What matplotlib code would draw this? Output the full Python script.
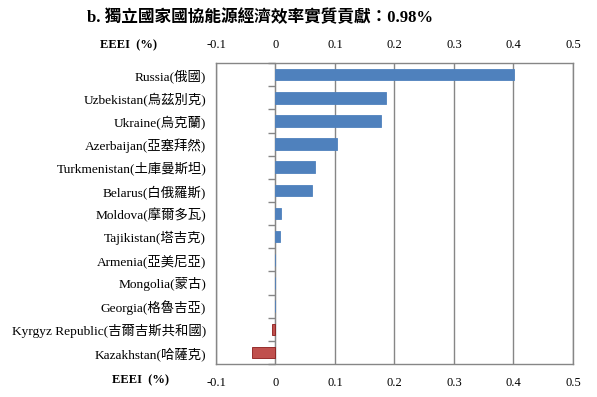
import matplotlib
matplotlib.use("Agg")
import matplotlib.pyplot as plt
import numpy as np

countries = ["Russia(俄國)", "Uzbekistan(烏茲別克)", "Ukraine(烏克蘭)", "Azerbaijan(亞塞拜然)",
             "Turkmenistan(土庫曼斯坦)", "Belarus(白俄羅斯)", "Moldova(摩爾多瓦)", "Tajikistan(塔吉克)",
             "Armenia(亞美尼亞)", "Mongolia(蒙古)", "Georgia(格魯吉亞)", "Kyrgyz Republic(吉爾吉斯共和國)",
             "Kazakhstan(哈薩克)"]
values = [0.401, 0.185, 0.178, 0.103, 0.067, 0.061, 0.010, 0.007, 0.0, 0.0, 0.0, -0.006, -0.040]
xticks = [-0.1, 0, 0.1, 0.2, 0.3, 0.4, 0.5]
xticklabels = ["-0.1", "0", "0.1", "0.2", "0.3", "0.4", "0.5"]
title = "b. 獨立國家國協能源經濟效率實質貢獻：0.98%"
axis_label = "EEEI  (%)"

fam = ["Liberation Serif", "Noto Sans CJK TC", "DejaVu Sans"]
plt.rcParams['font.family'] = fam

fig = plt.figure(figsize=(5.97, 3.97), dpi=100)
ax = fig.add_axes([0.3618, 0.0831, 0.5980, 0.7580])

n = len(countries)
ypos = np.arange(n)[::-1]
colors = ["#4F81BD" if v >= 0 else "#C0504D" for v in values]
edges = ["#4F81BD" if v >= 0 else "#8B1A1A" for v in values]
ax.barh(ypos, values, height=0.5, color=colors, edgecolor=edges, linewidth=0.6, zorder=3)

ax.set_xlim(-0.1, 0.5)
ax.set_ylim(-0.5, n - 0.5)
ax.set_xticks(xticks)
ax.set_xticklabels(xticklabels, fontsize=9)
ax.tick_params(axis='x', which='both', length=0, top=True, labeltop=True, pad=9)
ax.set_yticks(ypos)
ax.set_yticklabels(countries, fontsize=9.6)
ax.tick_params(axis='y', length=0, pad=7)
ax.grid(axis='x', color="#868686", linewidth=1.0, zorder=1)
for s in ['left', 'bottom', 'top', 'right']:
    ax.spines[s].set_color("#868686")
    ax.spines[s].set_linewidth(1.0)

sec = ax.secondary_yaxis(1 / 6)
sec.set_yticks(np.arange(n + 1) - 0.5)
sec.set_yticklabels([])
sec.tick_params(axis='y', direction='out', length=5, color="#868686", width=1.0)
sec.spines['left'].set_color("#868686")

fig.text(0.435, 0.955, title, ha='center', va='center', fontsize=12, fontweight='bold')
fig.text(0.215, 0.885, axis_label, ha='center', va='center', fontsize=9, fontweight='bold')
fig.text(0.235, 0.043, axis_label, ha='center', va='center', fontsize=9, fontweight='bold')

fig.savefig("out.png", dpi=100)
